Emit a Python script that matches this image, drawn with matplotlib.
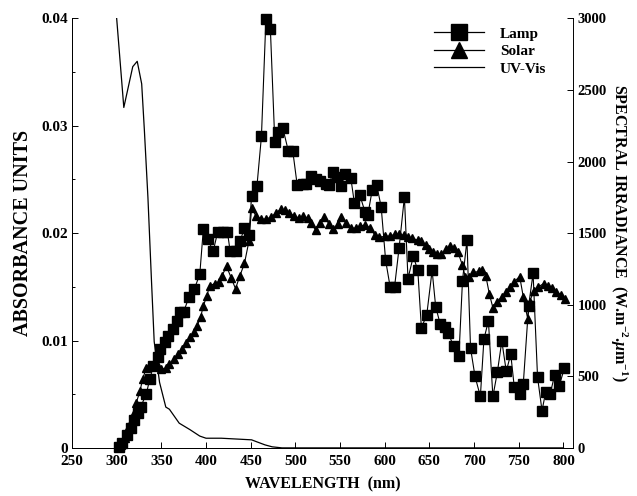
import matplotlib
matplotlib.use("Agg")
import matplotlib.pyplot as plt
from matplotlib.lines import Line2D

plt.rcParams['font.family'] = ['Liberation Serif', 'DejaVu Serif']
plt.rcParams['font.weight'] = 'bold'
plt.rcParams['mathtext.fontset'] = 'custom'
plt.rcParams['mathtext.rm'] = 'Liberation Serif:bold'
plt.rcParams['mathtext.it'] = 'Liberation Serif:bold:italic'
plt.rcParams['mathtext.bf'] = 'Liberation Serif:bold'

# Lamp spectral irradiance (W.m-2.um-1), right axis
lamp_wl = [303, 306, 312, 316, 319, 324, 327, 333, 337, 341, 346, 349, 354, 358, 363,
           367, 371, 375, 381, 387, 393, 397, 402, 408, 413, 419, 424, 427, 433, 438,
           443, 448, 451, 457, 462, 467, 472, 477, 481, 486, 492, 497, 502, 508, 512,
           517, 523, 528, 534, 538, 542, 547, 551, 556, 562, 566, 572, 578, 581, 586,
           591, 596, 601, 606, 611, 616, 622, 626, 632, 637, 641, 647, 653, 657, 662,
           667, 671, 677, 683, 687, 692, 696, 701, 707, 711, 716, 721, 726, 731, 736,
           741, 745, 751, 755, 761, 766, 771, 776, 780, 785, 790, 795, 801]
lamp_irr = [7, 35, 92, 141, 197, 246, 289, 373, 479, 570, 634, 690, 739, 782, 831,
            887, 950, 950, 1056, 1112, 1211, 1528, 1457, 1373, 1507, 1507, 1507, 1373, 1373, 1443,
            1535, 1485, 1760, 1830, 2175, 2992, 2929, 2133, 2204, 2232, 2077, 2077, 1837, 1844, 1844,
            1901, 1880, 1866, 1844, 1837, 1929, 1894, 1830, 1915, 1887, 1711, 1767, 1647, 1626, 1802,
            1837, 1683, 1309, 1126, 1126, 1394, 1753, 1183, 1338, 1239, 838, 929, 1239, 986, 866,
            845, 803, 711, 640, 1169, 1450, 697, 500, 359, 760, 887, 359, 528, 746, 535,
            655, 422, 373, 444, 993, 1218, 493, 260, 387, 373, 507, 429, 556]

# Solar spectral irradiance, right axis
solar_wl = [305, 309, 312, 316, 319, 322, 326, 329, 333, 336, 341, 346, 350, 355, 359,
            364, 369, 373, 378, 382, 387, 390, 394, 397, 401, 404, 410, 415, 418, 423,
            428, 433, 438, 443, 448, 451, 456, 462, 467, 473, 478, 484, 488, 493, 499,
            504, 509, 514, 517, 523, 527, 532, 538, 542, 548, 551, 557, 562, 568, 572,
            578, 584, 589, 594, 600, 606, 611, 616, 621, 626, 631, 637, 641, 646, 649,
            654, 659, 663, 669, 673, 678, 682, 687, 690, 694, 699, 705, 709, 713, 717,
            721, 726, 731, 736, 740, 745, 751, 755, 760, 762, 767, 772, 778, 783, 787,
            792, 797, 802]
solar_irr = [21, 70, 127, 183, 246, 317, 394, 479, 556, 570, 577, 570, 549, 556, 584,
             620, 655, 690, 732, 774, 810, 852, 915, 992, 1063, 1133, 1148, 1162, 1204, 1267,
             1190, 1112, 1204, 1288, 1443, 1675, 1619, 1598, 1598, 1612, 1640, 1668, 1661, 1640, 1619,
             1605, 1619, 1605, 1570, 1520, 1570, 1612, 1563, 1528, 1563, 1612, 1570, 1535, 1535, 1549,
             1556, 1535, 1485, 1471, 1478, 1478, 1492, 1492, 1485, 1471, 1464, 1450, 1443, 1415, 1387,
             1366, 1351, 1351, 1387, 1408, 1394, 1366, 1274, 1197, 1197, 1225, 1232, 1239, 1204, 1077,
             979, 1021, 1056, 1091, 1126, 1162, 1197, 1056, 901, 1021, 1098, 1126, 1148, 1133, 1119,
             1091, 1070, 1042]

# UV-Vis absorbance, left axis
uv_wl = [300, 308, 318, 323, 328, 331, 335, 339, 342, 348, 355, 359, 370, 382, 393,
         400, 417, 451, 457, 466, 474, 485, 800]
uv_abs = [0.040, 0.0317, 0.0355, 0.036, 0.0339, 0.0296, 0.0233, 0.0155, 0.0099, 0.0061,
          0.0038, 0.0036, 0.0023, 0.0017, 0.0011, 0.0009, 0.0009, 0.00075, 0.00056, 0.00028,
          0.0001, 0.0, 0.0]

fig = plt.figure(figsize=(6.37, 4.96), dpi=100)
ax = fig.add_axes([0.113, 0.097, 0.787, 0.866])
ax2 = ax.twinx()

ax.plot(uv_wl, uv_abs, color='black', lw=0.9)
ax2.plot(lamp_wl, lamp_irr, color='black', lw=0.8, marker='s', ms=6.5, clip_on=False)
ax2.plot(solar_wl, solar_irr, color='black', lw=0.8, marker='^', ms=5.5, clip_on=False)

ax.set_xlim(250, 811)
ax.set_ylim(0, 0.04)
ax2.set_ylim(0, 3000)

ax.set_xticks(range(250, 801, 50))
ax.set_yticks([0, 0.01, 0.02, 0.03, 0.04])
ax.set_yticklabels(['0', '0.01', '0.02', '0.03', '0.04'])
ax.set_yticks([0.005, 0.015, 0.025, 0.035], minor=True)
ax2.set_yticks(range(0, 3001, 500))

for a in (ax, ax2):
    a.spines['top'].set_visible(False)
    for s in a.spines.values():
        s.set_linewidth(0.7)
ax.spines['right'].set_visible(False)

ax.tick_params(axis='x', direction='in', length=4, width=0.7, labelsize=11, pad=5)
ax.tick_params(axis='y', which='major', direction='in', length=4, width=0.7, labelsize=11, pad=3)
ax.tick_params(axis='y', which='minor', direction='in', length=2.5, width=0.7)
ax2.tick_params(axis='y', direction='in', length=4, width=0.7, labelsize=10.5, pad=3)

ax.set_xlabel('WAVELENGTH  (nm)', fontsize=11.5, fontweight='bold', labelpad=6)
ax.set_ylabel('ABSORBANCE UNITS', fontsize=14.5, fontweight='bold', labelpad=6)
ax2.set_ylabel(r'SPECTRAL IRRADIANCE  (W.m$^{-2}$.$\mu$m$^{-1}$)', fontsize=11.5,
               fontweight='bold', rotation=270, labelpad=16)

handles = [Line2D([], [], color='black', lw=0.9, marker='s', ms=11),
           Line2D([], [], color='black', lw=0.9, marker='^', ms=11),
           Line2D([], [], color='black', lw=0.9)]
ax2.legend(handles, ['Lamp', 'Solar', 'UV-Vis'], loc='upper left',
           bbox_to_anchor=(434 / 637, 1 - 27 / 496), bbox_transform=fig.transFigure,
           frameon=False, fontsize=11, handlelength=3.3, handletextpad=1.0,
           labelspacing=0.25, borderpad=0, borderaxespad=0)

fig.savefig('out.png', dpi=100)
